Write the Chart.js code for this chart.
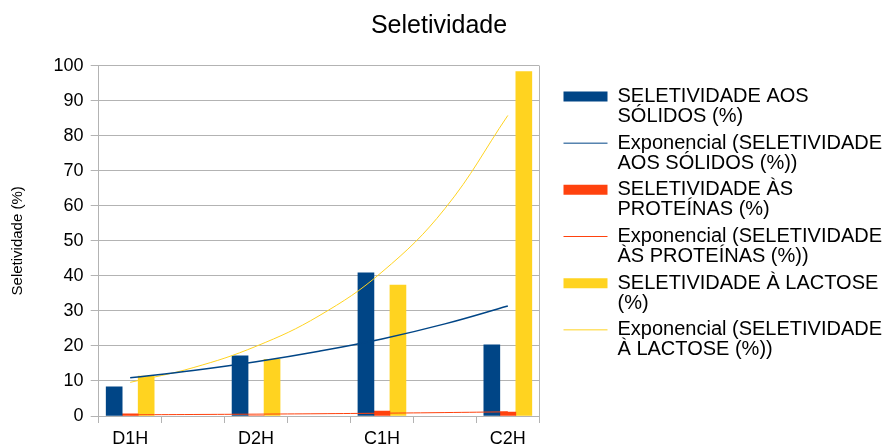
<!DOCTYPE html>
<html><head><meta charset="utf-8">
<script src="https://cdn.jsdelivr.net/npm/chart.js@4"></script>
<style>html,body{margin:0;padding:0;background:#fff}</style>
</head><body>
<canvas id="c" width="886" height="446" style="width:886px;height:446px;display:block"></canvas>
<script>
// ---- data ----
const categories = ['D1H', 'D2H', 'C1H', 'C2H'];
const solidos = [8.3, 17.2, 40.9, 20.3];
const proteinas = [0.6, 0.15, 1.43, 1.14];
const lactose = [11.4, 16.2, 37.4, 98.3];
// exponential trend lines, read at half-category steps
const trendX = [0, 0.5, 1, 1.5, 2, 2.5, 3];
const trendSolidos = [10.9, 13.0, 15.5, 18.5, 22.0, 26.3, 31.4];
const trendProteinas = [0.35, 0.43, 0.53, 0.65, 0.80, 0.98, 1.20];
const trendLactose = [9.6, 13.8, 19.9, 28.6, 41.1, 59.2, 85.8];
const yTicks = [0, 10, 20, 30, 40, 50, 60, 70, 80, 90, 100];
const legendLabels = [
  ['SELETIVIDADE AOS', 'SÓLIDOS (%)'],
  ['Exponencial (SELETIVIDADE', 'AOS SÓLIDOS (%))'],
  ['SELETIVIDADE ÀS', 'PROTEÍNAS (%)'],
  ['Exponencial (SELETIVIDADE', 'ÀS PROTEÍNAS (%))'],
  ['SELETIVIDADE À LACTOSE', '(%)'],
  ['Exponencial (SELETIVIDADE', 'À LACTOSE (%))']
];
const titleText = 'Seletividade';
const yTitle = 'Seletividade (%)';

const BLUE = '#004586', RED = '#ff420e', YELLOW = '#ffd320', GRID = '#b3b3b3';

const barPts = arr => arr.map((v, i) => ({x: i, y: v}));
const trendPts = arr => arr.map((v, i) => ({x: trendX[i], y: v}));

Chart.defaults.font.family = '"Liberation Sans", Arial, sans-serif';
Chart.defaults.color = '#000';

const isMark = v => Math.abs(((v + 0.25) / 0.5) - Math.round((v + 0.25) / 0.5)) < 1e-6;

const legendTweak = {
  id: 'legendTweak',
  afterInit(chart) {
    const lg = chart.legend;
    const fit = lg.fit;
    lg.fit = function () { fit.call(this); this.width = 886 - 8 - 539.3; };
    const draw = lg.draw;
    lg.draw = function () {
      const l = this.left, t = this.top, r = this.right;
      this.left = 563.5 - 6.67;
      this.top = 86.5 - 6.67;
      this.right = 886;
      draw.call(this);
      this.left = l; this.top = t; this.right = r;
    };
  }
};

new Chart(document.getElementById('c'), {
  type: 'bar',
  data: {
    datasets: [
      {type: 'bar', data: barPts(solidos), backgroundColor: BLUE, borderWidth: 0, order: 1},
      {type: 'line', data: trendPts(trendSolidos), borderColor: BLUE, borderWidth: 1.5, pointRadius: 0, tension: 0.4, fill: false, order: 0},
      {type: 'bar', data: barPts(proteinas), backgroundColor: RED, borderWidth: 0, order: 1},
      {type: 'line', data: trendPts(trendProteinas), borderColor: RED, borderWidth: 1, pointRadius: 0, tension: 0.4, fill: false, order: 0},
      {type: 'bar', data: barPts(lactose), backgroundColor: YELLOW, borderWidth: 0, order: 1},
      {type: 'line', data: trendPts(trendLactose), borderColor: YELLOW, borderWidth: 1, pointRadius: 0, tension: 0.4, fill: false, order: 0}
    ]
  },
  options: {
    responsive: false,
    animation: false,
    devicePixelRatio: 1,
    layout: {padding: {left: 0, right: 8, top: 0, bottom: 0}},
    datasets: {bar: {barThickness: 16, grouped: true}},
    scales: {
      x: {
        type: 'linear', min: -0.25, max: 3.25, offset: false,
        afterBuildTicks: s => {
          const t = [];
          for (let k = 0; k <= 14; k++) t.push({value: -0.25 + k * 0.25});
          s.ticks = t;
        },
        afterFit: s => { s.height = 30; },
        ticks: {
          autoSkip: false, maxRotation: 0, minRotation: 0, padding: 5,
          font: {size: 18},
          callback: v => Number.isInteger(v) ? categories[v] : ''
        },
        grid: {
          offset: false, drawOnChartArea: true, tickLength: 7,
          color: c => (c.tick && Math.abs(c.tick.value - 3.25) < 1e-6) ? GRID : 'rgba(0,0,0,0)',
          tickColor: c => (c.tick && isMark(c.tick.value)) ? GRID : 'rgba(0,0,0,0)'
        },
        border: {display: true, color: GRID}
      },
      y: {
        type: 'linear', min: 0, max: 100,
        afterBuildTicks: s => { s.ticks = yTicks.map(v => ({value: v})); },
        afterFit: s => { s.width = 98.7; },
        ticks: {font: {size: 18}, padding: 7.2},
        grid: {color: GRID, tickColor: GRID, tickLength: 8},
        border: {display: true, color: GRID},
        title: {display: true, text: yTitle, font: {size: 15}, padding: {top: 9, bottom: 0}}
      }
    },
    plugins: {
      title: {display: true, text: titleText, font: {size: 25, weight: 'normal'}, padding: {top: 11, bottom: 24.7}},
      tooltip: {enabled: false},
      legend: {
        display: true, position: 'right', align: 'start',
        labels: {
          usePointStyle: true, pointStyleWidth: 44, boxHeight: 10,
          font: {size: 20, lineHeight: 1}, padding: 6.67,
          generateLabels: chart => chart.data.datasets.map((ds, i) => {
            const isBar = ds.type === 'bar';
            const col = isBar ? ds.backgroundColor : ds.borderColor;
            return {
              text: legendLabels[i], fillStyle: isBar ? col : 'rgba(0,0,0,0)', strokeStyle: col,
              lineWidth: isBar ? 0 : 1, pointStyle: isBar ? 'rect' : 'line',
              hidden: false, datasetIndex: i, fontColor: '#000'
            };
          })
        }
      }
    }
  },
  plugins: [legendTweak]
});
</script>
</body></html>
